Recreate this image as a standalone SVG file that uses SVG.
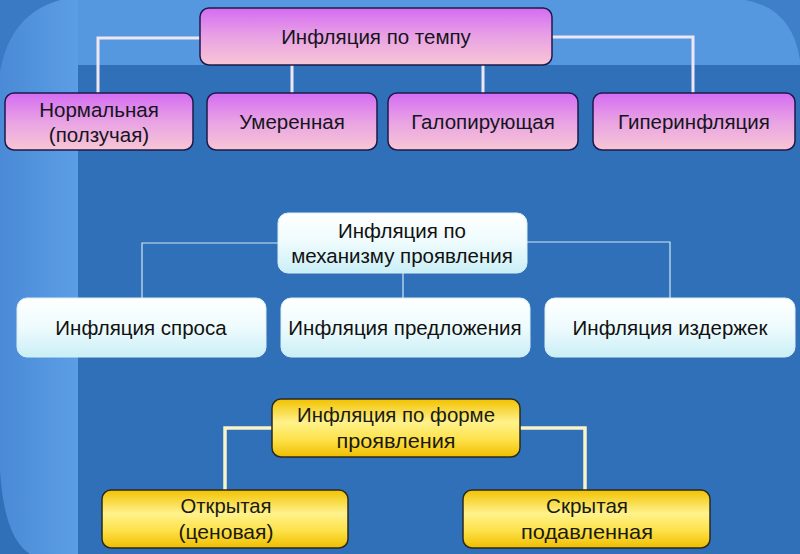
<svg xmlns="http://www.w3.org/2000/svg" width="800" height="554" viewBox="0 0 800 554">
<defs>
<linearGradient id="gPink" x1="0" y1="0" x2="0" y2="1">
<stop offset="0" stop-color="#d46cf2"/>
<stop offset="0.5" stop-color="#e9a2e4"/>
<stop offset="1" stop-color="#f8c6d4"/>
</linearGradient>
<linearGradient id="gCyan" x1="0" y1="0" x2="0" y2="1">
<stop offset="0" stop-color="#ffffff"/>
<stop offset="0.5" stop-color="#eefbfd"/>
<stop offset="1" stop-color="#c9eff6"/>
</linearGradient>
<linearGradient id="gYel" x1="0" y1="0" x2="0" y2="1">
<stop offset="0" stop-color="#f2c200"/>
<stop offset="0.4" stop-color="#fff28c"/>
<stop offset="0.7" stop-color="#fde24a"/>
<stop offset="1" stop-color="#f0bd00"/>
</linearGradient>
<linearGradient id="gStrip" x1="0" y1="0" x2="1" y2="0">
<stop offset="0" stop-color="#4a8ad6"/>
<stop offset="1" stop-color="#5c9ee6"/>
</linearGradient>
</defs>
<style>
text{font-family:"Liberation Sans",Arial,sans-serif;text-anchor:middle;fill:#151520}
.p{fill:url(#gPink);stroke:#1c1a4a;stroke-width:1.5}
.c{fill:url(#gCyan);stroke:#d8eef6;stroke-width:1}
.y{fill:url(#gYel);stroke:#2a2a20;stroke-width:1.5}
.pt{font-size:20.5px}
.ct{font-size:20.5px;fill:#111}
.yt{font-size:21px;fill:#1a1a10}
.lp{stroke:#efe6f4;stroke-width:3;fill:none}
.lc{stroke:#cde6f0;stroke-width:1.2;fill:none}
.ly{stroke:#f8f4c8;stroke-width:3.5;fill:none}
</style>
<g id="background">
<rect x="0" y="0" width="800" height="554" fill="#3070b9"/>
<rect x="0" y="0" width="800" height="65" fill="#5598e0"/>
<rect x="0" y="0" width="78" height="554" fill="url(#gStrip)"/>
<path d="M0,0 L60,0 Q10,14 0,72 Z" fill="#3a79c4"/>
<path d="M745,0 L800,0 L800,60 Q792,8 745,0 Z" fill="#3f7ec8"/>
<path d="M0,470 Q4,538 30,554 L0,554 Z" fill="#3070b9"/>
</g>
<g id="connectors">
<path class="lp" d="M200,38 H98 V93"/>
<path class="lp" d="M292,65 V93"/>
<path class="lp" d="M483,65 V93"/>
<path class="lp" d="M552,37 H693 V93"/>
<path class="lc" d="M278,243 H142 V298"/>
<path class="lc" d="M403,273 V298"/>
<path class="lc" d="M527,242 H670 V298"/>
<path class="ly" d="M272,428 H225 V490"/>
<path class="ly" d="M520,428 H585 V490"/>
</g>
<g id="n-tempo"><rect class="p" x="200" y="8" width="352" height="57" rx="9"/><text class="pt" x="376" y="44">Инфляция по темпу</text></g>
<g id="n-normal"><rect class="p" x="5" y="93" width="188" height="57" rx="9"/><text class="pt" x="99" y="117">Нормальная</text><text class="pt" x="99" y="142">(ползучая)</text></g>
<g id="n-moder"><rect class="p" x="207" y="93" width="170" height="57" rx="9"/><text class="pt" x="292" y="129">Умеренная</text></g>
<g id="n-galop"><rect class="p" x="388" y="93" width="190" height="57" rx="9"/><text class="pt" x="483" y="129">Галопирующая</text></g>
<g id="n-hyper"><rect class="p" x="593" y="93" width="202" height="57" rx="9"/><text class="pt" x="694" y="129">Гиперинфляция</text></g>
<g id="n-mech"><rect class="c" x="278" y="213" width="249" height="60" rx="10"/><text class="ct" x="402" y="238">Инфляция по</text><text class="ct" x="402" y="263">механизму проявления</text></g>
<g id="n-demand"><rect class="c" x="17" y="298" width="249" height="59" rx="10"/><text class="ct" x="141" y="335">Инфляция спроса</text></g>
<g id="n-supply"><rect class="c" x="281" y="298" width="249" height="59" rx="10"/><text class="ct" x="405" y="335">Инфляция предложения</text></g>
<g id="n-cost"><rect class="c" x="545" y="298" width="250" height="59" rx="10"/><text class="ct" x="670" y="335">Инфляция издержек</text></g>
<g id="n-form"><rect class="y" x="272" y="399" width="248" height="58" rx="9"/><text class="yt" x="396" y="422" textLength="198" lengthAdjust="spacingAndGlyphs">Инфляция по форме</text><text class="yt" x="396" y="448" textLength="119" lengthAdjust="spacingAndGlyphs">проявления</text></g>
<g id="n-open"><rect class="y" x="102" y="490" width="246" height="58" rx="9"/><text class="yt" x="226" y="513" textLength="91" lengthAdjust="spacingAndGlyphs">Открытая</text><text class="yt" x="226" y="539" textLength="95" lengthAdjust="spacingAndGlyphs">(ценовая)</text></g>
<g id="n-hidden"><rect class="y" x="463" y="490" width="247" height="58" rx="9"/><text class="yt" x="587" y="513" textLength="82" lengthAdjust="spacingAndGlyphs">Скрытая</text><text class="yt" x="587" y="539" textLength="132" lengthAdjust="spacingAndGlyphs">подавленная</text></g>
</svg>
